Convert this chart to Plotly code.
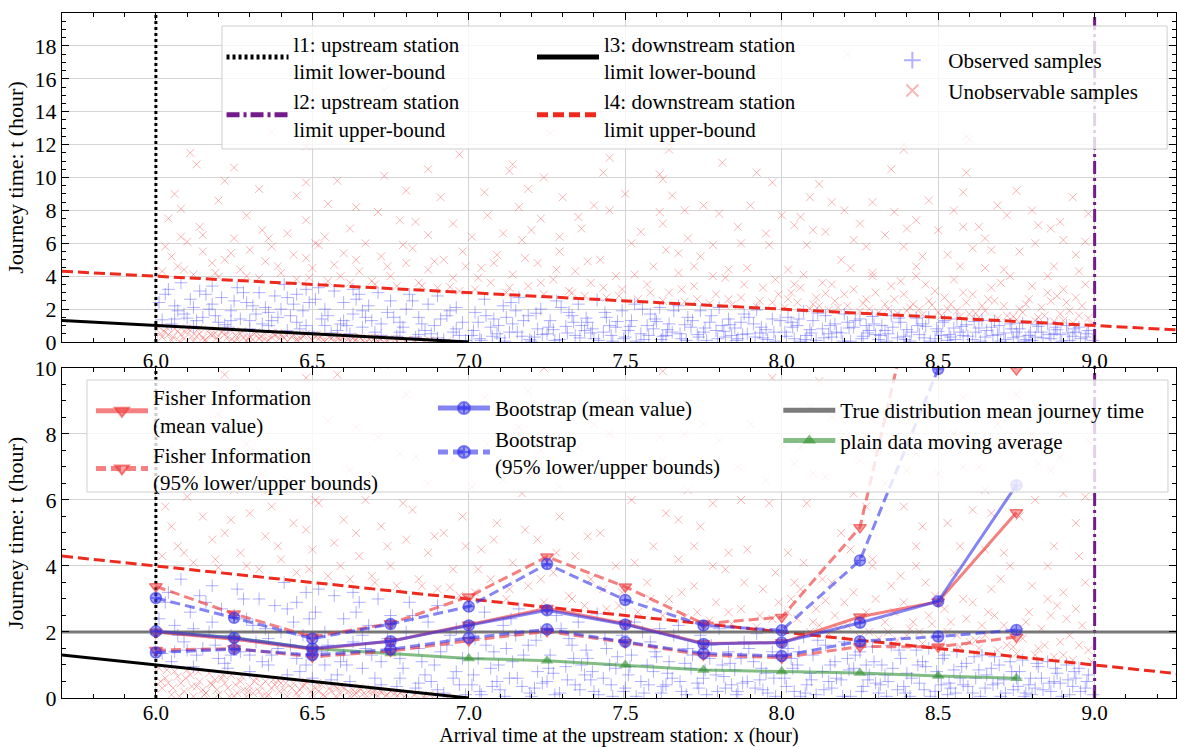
import plotly.graph_objects as go

# ---------------- data ----------------
station_x = [6.0, 6.25, 6.5, 6.75, 7.0, 7.25, 7.5, 7.75, 8.0, 8.25, 8.5, 8.75]
fisher_mean = [2.0, 1.78, 1.48, 1.72, 2.22, 2.72, 2.25, 1.65, 1.68, 2.46, 2.92, 5.62]
fisher_upper = [3.38, 2.55, 1.85, 2.26, 3.07, 4.28, 3.37, 2.25, 2.45, 5.17, 15.5, 9.95]
fisher_lower = [1.45, 1.5, 1.25, 1.42, 1.74, 2.02, 1.68, 1.3, 1.22, 1.56, 1.55, 1.85]
boot_mean = [2.02, 1.82, 1.5, 1.72, 2.2, 2.66, 2.23, 1.64, 1.68, 2.28, 2.93, 6.45]
boot_upper = [3.03, 2.43, 1.8, 2.24, 2.77, 4.06, 2.97, 2.2, 2.05, 4.17, 9.97, 13.0]
boot_lower = [1.38, 1.48, 1.3, 1.47, 1.82, 2.08, 1.7, 1.35, 1.27, 1.72, 1.86, 2.06]
moving_avg = [2.0, 1.83, 1.5, 1.35, 1.2, 1.13, 1.0, 0.85, 0.8, 0.76, 0.67, 0.6]
true_mean_x = [5.7, 9.3]
true_mean_t = [2.0, 2.0]

l1_x = [6.0, 6.0]
l2_x = [9.0, 9.0]
l3_x = [5.7, 7.0]
l3_t = [1.3, 0.0]
l4_x = [5.7, 9.3]
l4_t = [4.3, 0.7]

x_ticks = [6.0, 6.5, 7.0, 7.5, 8.0, 8.5, 9.0]
top_y_ticks = [0, 2, 4, 6, 8, 10, 12, 14, 16, 18]
bot_y_ticks = [0, 2, 4, 6, 8, 10]

observed = [
    (6.02,1.35),(6.03,2.9),(6.05,1.1),(6.06,2.2),(6.08,3.6),(6.09,1.7),(6.11,2.6),(6.12,0.95),(6.14,3.1),(6.15,1.5),
    (6.17,2.0),(6.18,3.4),(6.2,1.2),(6.21,2.7),(6.23,0.9),(6.24,1.9),(6.26,3.3),(6.27,1.4),(6.29,2.4),(6.3,0.8),
    (6.32,1.7),(6.33,3.0),(6.35,2.1),(6.36,1.0),(6.38,2.8),(6.39,1.5),(6.41,3.5),(6.42,0.7),(6.44,2.3),(6.45,1.2),
    (6.47,1.9),(6.48,3.2),(6.5,0.6),(6.51,2.6),(6.53,1.4),(6.54,2.0),(6.56,0.55),(6.57,3.1),(6.59,1.1),(6.6,2.4),
    (6.62,0.5),(6.63,1.7),(6.65,2.9),(6.66,0.9),(6.68,2.2),(6.69,1.3),(6.71,3.0),(6.72,0.4),(6.74,1.8),(6.75,2.5),
    (6.77,0.35),(6.78,1.2),(6.8,2.0),(6.81,2.9),(6.83,0.3),(6.84,1.5),(6.86,0.7),(6.87,2.3),(6.89,1.0),(6.9,2.8),
    (6.92,0.15),(6.93,1.6),(6.95,0.6),(6.96,2.1),(6.98,1.2),(6.99,0.1),(6.07,1.9),(6.19,1.6),(6.31,2.2),(6.43,1.6),
    (6.55,1.6),(6.67,1.5),(6.79,0.9),(6.91,1.4),(6.13,1.3),(6.37,1.3),(6.61,1.0),(6.85,1.1),(6.25,2.5),(6.49,2.4),
    (6.01,2.4),(6.04,3.2),(6.1,1.45),(6.16,2.9),(6.22,1.05),(6.28,3.0),(6.34,1.1),(6.4,2.0),(6.46,0.8),(6.52,3.3),
    (6.58,0.7),(6.64,2.6),(6.7,0.6),(6.76,1.5),(6.82,2.5),(6.88,0.5),(6.94,1.9),(6.97,0.4),(6.06,1.4),(6.18,2.3),
    (6.3,1.3),(6.42,2.7),(6.54,1.0),(6.66,1.9),(6.78,0.6),(6.9,0.25),(6.12,2.1),(6.36,1.8),(6.6,1.3),(6.84,0.45),
    (6.24,1.3),(6.48,1.0),(6.72,1.1),(6.96,0.8),(6.45,2.9),(6.63,3.2),
    (7.01,0.4),(7.02,1.8),(7.04,0.1),(7.05,2.6),(7.07,0.9),(7.08,1.4),(7.1,0.25),(7.11,2.2),(7.13,0.6),(7.14,1.1),
    (7.16,2.7),(7.17,0.35),(7.19,1.6),(7.2,0.05),(7.22,0.8),(7.23,2.0),(7.25,0.5),(7.26,1.3),(7.28,2.5),(7.29,0.15),
    (7.31,0.95),(7.32,1.8),(7.34,0.4),(7.35,2.3),(7.37,0.7),(7.38,1.2),(7.4,0.2),(7.41,2.55),(7.43,0.6),(7.44,1.5),
    (7.46,0.05),(7.47,0.9),(7.49,1.9),(7.5,0.3),(7.52,1.3),(7.53,2.3),(7.55,0.5),(7.56,0.15),(7.58,1.7),(7.59,0.8),
    (7.61,2.1),(7.62,0.35),(7.64,1.1),(7.65,0.6),(7.67,2.2),(7.68,0.2),(7.7,1.5),(7.71,0.9),(7.73,0.45),(7.74,1.9),
    (7.76,0.1),(7.77,1.2),(7.79,0.7),(7.8,2.1),(7.82,0.3),(7.83,1.4),(7.85,0.85),(7.86,0.2),(7.88,1.7),(7.89,0.5),
    (7.91,1.1),(7.92,1.95),(7.94,0.25),(7.95,0.75),(7.97,1.4),(7.98,0.05),(7.03,1.2),(7.09,0.5),(7.15,1.9),(7.21,0.3),
    (7.27,0.75),(7.33,1.6),(7.39,0.55),(7.45,1.0),(7.51,0.7),(7.57,1.0),(7.63,0.4),(7.69,1.05),(7.75,0.6),(7.81,1.0),
    (7.87,1.2),(7.93,0.55),(7.12,1.5),(7.36,1.0),(7.6,1.25),(7.84,0.4),
    (7.015,0.7),(7.035,0.2),(7.055,1.6),(7.075,0.35),(7.095,1.0),(7.115,0.05),(7.135,2.4),(7.155,0.6),(7.175,1.3),(7.195,0.15),
    (7.215,1.75),(7.235,0.45),(7.255,0.9),(7.275,0.1),(7.295,2.1),(7.315,0.55),(7.335,1.2),(7.355,0.25),(7.375,1.45),(7.395,0.8),
    (7.415,0.1),(7.435,1.8),(7.455,0.4),(7.475,1.25),(7.495,0.2),(7.515,0.95),(7.535,0.05),(7.555,2.0),(7.575,0.4),(7.595,1.4),
    (7.615,0.15),(7.635,0.75),(7.655,1.9),(7.675,0.5),(7.695,0.1),(7.715,1.3),(7.735,0.3),(7.755,0.85),(7.775,1.6),(7.795,0.2),
    (7.815,0.65),(7.835,1.05),(7.855,0.1),(7.875,0.45),(7.895,1.5),(7.915,0.3),(7.935,0.9),(7.955,0.15),(7.975,0.6),(7.995,1.3),
    (8.01,0.6),(8.02,1.5),(8.04,0.2),(8.05,1.0),(8.07,1.85),(8.08,0.4),(8.1,1.3),(8.11,0.1),(8.13,0.8),(8.14,1.6),
    (8.16,0.3),(8.17,1.1),(8.19,0.55),(8.2,1.7),(8.22,0.05),(8.23,0.9),(8.25,1.4),(8.26,0.35),(8.28,0.7),(8.29,1.55),
    (8.31,0.15),(8.32,1.0),(8.34,0.5),(8.35,1.6),(8.37,0.25),(8.38,1.2),(8.4,0.75),(8.41,0.05),(8.43,1.45),(8.44,0.45),
    (8.46,0.95),(8.47,1.5),(8.49,0.2),(8.5,0.65),(8.52,1.3),(8.53,0.1),(8.55,0.85),(8.56,1.4),(8.58,0.4),(8.59,1.05),
    (8.61,0.15),(8.62,0.6),(8.64,1.3),(8.65,0.3),(8.67,0.9),(8.68,1.25),(8.7,0.05),(8.71,0.55),(8.73,1.1),(8.74,0.25),
    (8.76,0.8),(8.77,1.15),(8.79,0.4),(8.8,0.1),(8.82,0.95),(8.83,0.6),(8.85,1.1),(8.86,0.2),(8.88,0.75),(8.89,0.45),
    (8.91,1.0),(8.92,0.1),(8.94,0.6),(8.95,0.9),(8.97,0.3),(8.98,0.7),(8.03,1.2),(8.09,0.75),(8.15,0.5),(8.21,1.2),
    (8.27,1.0),(8.33,0.7),(8.39,0.35),(8.45,1.1),(8.51,0.4),(8.57,0.6),(8.63,0.85),(8.69,0.45),(8.75,0.6),(8.81,0.3),
    (8.87,0.5),(8.93,0.35),(8.06,0.05),(8.3,0.45),(8.54,0.3),(8.78,0.15),
    (8.015,0.35),(8.035,0.9),(8.055,1.4),(8.075,0.15),(8.095,0.55),(8.115,1.75),(8.135,0.25),(8.155,1.0),(8.175,0.6),(8.195,0.05),
    (8.215,0.85),(8.235,1.3),(8.255,0.2),(8.275,0.55),(8.295,1.1),(8.315,0.4),(8.335,0.05),(8.355,0.9),(8.375,1.45),(8.395,0.15),
    (8.415,0.6),(8.435,1.0),(8.455,0.25),(8.475,0.05),(8.495,0.8),(8.515,1.2),(8.535,0.45),(8.555,0.15),(8.575,0.95),(8.595,0.35),
    (8.615,1.25),(8.635,0.05),(8.655,0.7),(8.675,0.4),(8.695,1.0),(8.715,0.15),(8.735,0.8),(8.755,0.35),(8.775,0.05),(8.795,0.6),
    (8.815,1.05),(8.835,0.25),(8.855,0.45),(8.875,0.9),(8.895,0.05),(8.915,0.55),(8.935,0.8),(8.955,0.2),(8.975,0.5),(8.995,0.1),
]

unobservable = [
    # below the downstream lower bound
    (6.01,0.9),(6.02,0.3),(6.03,0.6),(6.05,0.1),(6.06,0.8),(6.08,0.45),(6.09,0.2),(6.11,0.7),(6.12,0.05),(6.14,0.5),
    (6.15,0.25),(6.17,0.75),(6.18,0.4),(6.2,0.1),(6.21,0.6),(6.23,0.3),(6.24,0.7),(6.26,0.15),(6.27,0.5),(6.29,0.05),
    (6.3,0.35),(6.32,0.6),(6.33,0.2),(6.35,0.5),(6.36,0.1),(6.38,0.4),(6.39,0.55),(6.41,0.25),(6.42,0.05),(6.44,0.45),
    (6.45,0.15),(6.47,0.35),(6.48,0.5),(6.5,0.1),(6.51,0.3),(6.53,0.4),(6.54,0.05),(6.56,0.2),(6.57,0.38),(6.59,0.12),
    (6.6,0.3),(6.62,0.05),(6.63,0.25),(6.65,0.32),(6.66,0.1),(6.68,0.2),(6.69,0.28),(6.71,0.05),(6.72,0.18),(6.74,0.1),
    (6.75,0.2),(6.77,0.05),(6.78,0.15),(6.8,0.1),(6.83,0.12),(6.86,0.05),(6.89,0.08),(6.93,0.03),(6.04,0.45),(6.1,0.85),
    (6.16,0.15),(6.22,0.45),(6.28,0.25),(6.34,0.05),(6.4,0.45),(6.46,0.25),(6.52,0.2),(6.58,0.3),(6.64,0.15),(6.7,0.25),
    (6.07,0.65),(6.13,0.35),(6.19,0.55),(6.25,0.05),(6.31,0.15),(6.37,0.3),
    (6.015,0.5),(6.035,0.85),(6.055,0.3),(6.075,0.05),(6.095,0.6),(6.115,0.35),(6.135,0.8),(6.155,0.1),(6.175,0.45),(6.195,0.25),
    (6.215,0.7),(6.235,0.05),(6.255,0.4),(6.275,0.65),(6.295,0.2),(6.315,0.5),(6.335,0.35),(6.355,0.05),(6.375,0.55),(6.395,0.2),
    (6.415,0.45),(6.435,0.3),(6.455,0.05),(6.475,0.4),(6.495,0.2),(6.515,0.45),(6.535,0.1),(6.555,0.3),(6.575,0.05),(6.595,0.35),
    (6.615,0.2),(6.635,0.1),(6.655,0.25),(6.675,0.05),(6.695,0.15),(6.715,0.22),(6.735,0.08),(6.765,0.15),(6.795,0.05),(6.825,0.1),
    (6.855,0.04),(6.875,0.1),
    # above the downstream upper bound
    (6.02,4.3),(6.05,5.2),(6.07,4.6),(6.1,6.1),(6.12,4.1),(6.15,5.5),(6.18,4.8),(6.2,3.95),(6.22,5.0),(6.25,6.3),
    (6.27,4.4),(6.3,5.6),(6.33,3.9),(6.35,4.9),(6.37,5.8),(6.4,4.2),(6.42,6.6),(6.45,3.8),(6.48,5.1),(6.5,4.5),
    (6.52,5.9),(6.55,3.7),(6.57,4.7),(6.6,5.4),(6.62,3.6),(6.65,4.3),(6.67,6.0),(6.7,3.5),(6.72,5.2),(6.75,4.0),
    (6.77,3.4),(6.8,4.8),(6.82,5.7),(6.85,3.4),(6.87,4.4),(6.9,3.3),(6.92,5.0),(6.95,3.9),(6.97,3.1),(6.99,4.6),
    (7.02,3.2),(7.04,4.5),(7.07,3.6),(7.09,5.3),(7.12,3.0),(7.14,4.1),(7.17,6.2),(7.19,3.4),(7.22,4.8),(7.24,2.9),
    (7.27,3.8),(7.29,5.5),(7.32,3.1),(7.34,4.3),(7.37,2.8),(7.39,3.6),(7.42,5.0),(7.44,2.7),(7.47,4.0),(7.49,3.2),
    (7.52,6.0),(7.54,2.6),(7.57,3.5),(7.59,4.6),(7.62,2.5),(7.64,3.0),(7.67,4.2),(7.69,2.45),(7.72,3.4),(7.74,5.2),
    (7.77,2.35),(7.79,2.9),(7.82,3.9),(7.84,2.25),(7.87,2.7),(7.89,4.5),(7.92,2.15),(7.94,3.3),(7.97,2.4),(7.99,2.9),
    (8.01,2.1),(8.03,3.0),(8.05,2.4),(8.07,4.1),(8.09,2.0),(8.11,2.7),(8.13,3.6),(8.15,1.95),(8.17,2.5),(8.19,5.0),
    (8.21,2.2),(8.23,3.2),(8.25,1.85),(8.27,2.6),(8.29,4.2),(8.31,1.8),(8.33,2.3),(8.35,3.4),(8.37,1.75),(8.39,2.9),
    (8.41,2.1),(8.43,4.6),(8.45,1.65),(8.47,2.5),(8.49,3.1),(8.51,1.6),(8.53,2.0),(8.55,3.8),(8.57,1.55),(8.59,2.4),
    (8.61,2.9),(8.63,1.5),(8.65,1.9),(8.67,3.3),(8.69,1.45),(8.71,2.2),(8.73,4.0),(8.75,1.35),(8.77,1.8),(8.79,2.6),
    (8.81,1.3),(8.83,2.1),(8.85,3.0),(8.87,1.25),(8.89,1.7),(8.91,2.4),(8.93,1.15),(8.95,1.6),(8.97,3.5),(8.99,1.1),
    (8.04,3.5),(8.12,2.2),(8.2,2.9),(8.28,2.0),(8.36,2.6),(8.44,2.0),(8.52,2.7),(8.6,1.7),(8.68,2.5),(8.76,2.0),
    (8.84,1.6),(8.92,1.9),(8.96,2.2),(8.88,2.8),(8.8,3.4),(8.72,1.6),(8.64,2.2),(8.56,1.9),(8.48,2.25),(8.4,1.9),
    (6.03,5.8),(6.09,4.4),(6.14,7.0),(6.19,4.2),(6.24,5.4),(6.29,4.0),(6.34,6.8),(6.39,4.6),(6.44,5.3),(6.49,3.9),
    (6.54,6.4),(6.59,4.0),(6.64,5.0),(6.69,3.7),(6.74,4.6),(6.79,5.9),(6.84,3.6),(6.89,4.9),(6.94,3.35),(6.98,5.5),
    (7.03,3.9),(7.08,4.8),(7.13,3.3),(7.18,5.1),(7.23,3.6),(7.28,4.4),(7.33,3.0),(7.38,4.9),(7.43,3.3),(7.48,2.8),
    (7.53,4.1),(7.58,3.0),(7.63,5.6),(7.68,3.2),(7.73,2.6),(7.78,4.0),(7.83,2.6),(7.88,3.5),(7.93,2.5),(7.98,3.8),
    (8.02,2.6),(8.06,3.3),(8.1,2.3),(8.14,2.95),(8.18,2.1),(8.22,4.5),(8.26,2.35),(8.3,3.0),(8.34,2.0),(8.38,3.7),
    (8.42,2.3),(8.46,3.5),(8.5,1.8),(8.54,2.3),(8.58,3.0),(8.62,1.75),(8.66,2.6),(8.7,3.6),(8.74,1.55),(8.78,2.3),
    (8.82,1.5),(8.86,2.5),(8.9,1.3),(8.94,2.7),(8.98,1.45),(8.85,4.0),(8.9,3.2),(8.95,4.3),(8.65,4.5),(8.45,5.2),
    # sparse high journey times
    (6.11,11.5),(6.13,10.8),(6.22,9.8),(6.48,9.7),(6.97,11.4),(7.14,10.8),(7.13,10.4),(6.87,10.5),(6.8,9.2),(6.73,10.1),
    (6.91,8.8),(7.19,9.3),(7.24,10.0),(7.43,10.3),(7.3,8.8),(7.61,10.2),(6.08,8.1),(6.04,7.5),(6.29,7.7),(6.55,8.4),
    (6.64,8.2),(6.71,7.9),(6.78,7.4),(6.83,7.3),(7.06,7.7),(7.16,8.2),(7.4,8.3),(7.45,8.0),(7.23,7.5),(6.48,7.4),
    (6.08,6.4),(6.15,6.5),(6.36,6.3),(6.51,6.0),(6.87,6.5),(7.01,6.4),(7.11,6.6),(7.29,6.4),(7.36,6.9),(7.61,7.9),
    (7.81,10.9),(7.92,10.3),(7.97,9.7),(7.62,9.9),(8.09,8.8),(8.16,8.5),(8.2,8.0),(8.29,8.5),(8.36,7.9),(8.47,8.6),
    (8.59,10.3),(8.58,9.1),(8.55,8.0),(8.69,8.3),(8.72,7.7),(8.93,8.8),(8.58,7.0),(8.63,7.0),(8.82,7.1),(8.89,7.3),
    (8.86,6.9),(8.43,7.4),(8.4,6.9),(8.14,6.7),(8.1,6.8),(8.06,7.6),(8.04,7.1),(8.0,7.7),(7.9,8.3),(7.86,7.0),
    (7.8,7.8),(7.75,8.3),(7.69,8.0),(7.65,8.9),(7.62,7.2),(7.78,5.9),(7.87,6.0),(7.96,5.9),(8.08,5.9),(8.23,6.2),
    (8.27,5.8),(8.39,5.8),(8.53,5.3),(8.61,5.7),(8.67,5.6),(8.76,5.5),(8.81,6.0),(8.97,6.1),(8.94,5.3),(8.87,4.6),
    (8.71,4.4),(8.57,4.6),(8.43,4.0),(8.29,4.0),(8.16,3.5),(8.02,4.4),(7.83,4.4),(7.72,4.6),(7.67,5.4),
    (6.06,9.0),(6.2,8.6),(6.33,9.3),(6.45,8.9),(6.58,9.8),(6.62,6.9),(6.95,7.2),(7.05,9.1),(7.2,6.8),(7.35,7.6),
    (7.5,9.0),(7.55,6.7),(7.7,6.3),(7.95,6.6),(8.12,9.6),(8.25,7.2),(8.33,6.5),(8.5,6.8),(8.65,6.3),(8.75,9.2),
    (8.8,8.0),(8.9,6.2),(8.98,7.8),(8.35,10.5),(7.45,11.2),(6.25,10.6),
    (6.73,15.3),(6.37,12.8),(6.48,11.9),(8.21,17.5),(8.39,11.7),(8.6,12.3),(7.64,11.7),(6.63,12.5),(7.26,12.7),(8.39,12.0),
    (8.59,12.5),(7.64,12.0),
]

obs_x = [p[0] for p in observed]
obs_t = [p[1] for p in observed]
un_x = [p[0] for p in unobservable]
un_t = [p[1] for p in unobservable]

# ---------------- styling ----------------
FONT = "Liberation Serif"
FS = 22
LFS = 21
BLUE_PTS = "rgba(70,70,255,0.42)"
RED_PTS = "rgba(240,80,80,0.42)"
FISH = "rgba(238,60,60,0.65)"
FISH_FILL = "rgba(238,60,60,0.45)"
BOOT = "rgba(50,50,235,0.6)"
BOOT_FILL = "rgba(50,50,235,0.45)"
GREEN = "rgba(50,145,50,0.6)"
L4_RED = "#ee2a1e"
PURPLE = "#741b8a"

fig = go.Figure()

for panel, (xa, ya, top) in enumerate([("x", "y", 20), ("x2", "y2", 10)]):
    first = panel == 0
    fig.add_trace(go.Scatter(
        x=obs_x, y=obs_t, mode="markers", xaxis=xa, yaxis=ya,
        name="Observed samples", legend="legend3", legendgroup="obs",
        showlegend=first,
        marker=dict(symbol="cross-thin", size=9, color=BLUE_PTS,
                    line=dict(color=BLUE_PTS, width=1)),
    ))
    fig.add_trace(go.Scatter(
        x=un_x, y=un_t, mode="markers", xaxis=xa, yaxis=ya,
        name="Unobservable samples", legend="legend3", legendgroup="unobs",
        showlegend=first,
        marker=dict(symbol="x-thin", size=8, color=RED_PTS,
                    line=dict(color=RED_PTS, width=1)),
    ))
    fig.add_trace(go.Scatter(
        x=l1_x, y=[0, top], mode="lines", xaxis=xa, yaxis=ya,
        name="l1: upstream station<br>limit lower-bound", legend="legend",
        legendgroup="l1", showlegend=first,
        line=dict(color="black", width=3, dash="3px,3px"),
    ))
    fig.add_trace(go.Scatter(
        x=l2_x, y=[0, top], mode="lines", xaxis=xa, yaxis=ya,
        name="l2: upstream station<br>limit upper-bound", legend="legend",
        legendgroup="l2", showlegend=first,
        line=dict(color=PURPLE, width=3, dash="13px,4px,3px,4px"),
    ))
    fig.add_trace(go.Scatter(
        x=l3_x, y=l3_t, mode="lines", xaxis=xa, yaxis=ya,
        name="l3: downstream station<br>limit lower-bound", legend="legend2",
        legendgroup="l3", showlegend=first,
        line=dict(color="black", width=3),
    ))
    fig.add_trace(go.Scatter(
        x=l4_x, y=l4_t, mode="lines", xaxis=xa, yaxis=ya,
        name="l4: downstream station<br>limit upper-bound", legend="legend2",
        legendgroup="l4", showlegend=first,
        line=dict(color=L4_RED, width=3, dash="11px,5px"),
    ))

# bottom panel estimates
fig.add_trace(go.Scatter(
    x=true_mean_x, y=true_mean_t, mode="lines", xaxis="x2", yaxis="y2",
    name="True distribution mean journey time", legend="legend6", legendgroup="true",
    legendrank=1,
    line=dict(color="rgba(90,90,90,0.8)", width=3),
))
fig.add_trace(go.Scatter(
    x=station_x, y=moving_avg, mode="lines+markers", xaxis="x2", yaxis="y2",
    name="plain data moving average", legend="legend6", legendgroup="ma",
    legendrank=2,
    line=dict(color=GREEN, width=3),
    marker=dict(symbol="triangle-up", size=11, color=GREEN, line=dict(width=0)),
))
fig.add_trace(go.Scatter(
    x=station_x + [None] + station_x, y=fisher_upper + [None] + fisher_lower,
    mode="lines+markers", xaxis="x2", yaxis="y2",
    name="Fisher Information<br>(95% lower/upper bounds)", legend="legend4", legendgroup="fb",
    legendrank=2,
    line=dict(color=FISH, width=3, dash="10px,5px"),
    marker=dict(symbol="triangle-down", size=11, color=FISH_FILL, line=dict(color=FISH, width=1.5)),
))
fig.add_trace(go.Scatter(
    x=station_x + [None] + station_x, y=boot_upper + [None] + boot_lower,
    mode="lines+markers", xaxis="x2", yaxis="y2",
    name="Bootstrap<br>(95% lower/upper bounds)", legend="legend5", legendgroup="bb",
    legendrank=2,
    line=dict(color=BOOT, width=3, dash="10px,5px"),
    marker=dict(symbol="circle-cross", size=11, color=BOOT_FILL, line=dict(color=BOOT, width=1.5)),
))
fig.add_trace(go.Scatter(
    x=station_x, y=fisher_mean, mode="lines+markers", xaxis="x2", yaxis="y2",
    name="Fisher Information<br>(mean value)", legend="legend4", legendgroup="fm",
    legendrank=1,
    line=dict(color=FISH, width=3),
    marker=dict(symbol="triangle-down", size=11, color=FISH_FILL, line=dict(color=FISH, width=1.5)),
))
fig.add_trace(go.Scatter(
    x=station_x, y=boot_mean, mode="lines+markers", xaxis="x2", yaxis="y2",
    name="Bootstrap (mean value)", legend="legend5", legendgroup="bm",
    legendrank=1,
    line=dict(color=BOOT, width=3),
    marker=dict(symbol="circle-cross", size=11, color=BOOT_FILL, line=dict(color=BOOT, width=1.5)),
))

# ---------------- axes ----------------
def xaxis(anchor, show_title):
    return dict(
        anchor=anchor, domain=[0, 1], range=[5.7, 9.26],
        tickvals=x_ticks, ticktext=[f"{v:.1f}" for v in x_ticks],
        ticks="inside", ticklen=7, tickwidth=1, tickcolor="black",
        ticklabelstandoff=-4 if show_title else 0,
        minor=dict(dtick=0.1, tick0=6.0, ticks="inside", ticklen=4, tickcolor="black", showgrid=False),
        showline=True, linecolor="black", linewidth=1, mirror="allticks",
        showgrid=True, gridcolor="#d4d4d4", gridwidth=1, zeroline=False,
        tickfont=dict(family=FONT, size=21, color="black"),
        title=dict(text="Arrival time at the upstream station: x (hour)" if show_title else "",
                   font=dict(family=FONT, size=20, color="black"), standoff=6),
    )

def yaxis(anchor, domain, rng, ticks):
    return dict(
        anchor=anchor, domain=domain, range=rng,
        tickvals=ticks, ticktext=[str(v) for v in ticks],
        ticks="inside", ticklen=7, tickwidth=1, tickcolor="black",
        minor=dict(dtick=0.5, tick0=0, ticks="inside", ticklen=4, tickcolor="black", showgrid=False),
        showline=True, linecolor="black", linewidth=1, mirror="allticks",
        showgrid=True, gridcolor="#d4d4d4", gridwidth=1, zeroline=False,
        tickfont=dict(family=FONT, size=FS, color="black"),
        title=dict(text="Journey time: t (hour)", font=dict(family=FONT, size=FS, color="black"), standoff=4),
    )

leg_font = dict(family=FONT, size=LFS, color="black")
def legend(x, y, gap, width=52):
    return dict(x=x, y=y, xanchor="left", yanchor="top", bgcolor="rgba(0,0,0,0)",
                borderwidth=0, font=leg_font, tracegroupgap=gap, itemwidth=width,
                itemsizing="constant", orientation="v", traceorder="normal")

fig.update_layout(
    width=1177, height=747,
    margin=dict(l=62, r=1, t=13, b=49),
    paper_bgcolor="white", plot_bgcolor="white",
    font=dict(family=FONT, size=FS, color="black"),
    xaxis=xaxis("y", False),
    yaxis=yaxis("x", [0.5197, 1.0], [0, 20], top_y_ticks),
    xaxis2=xaxis("y2", True),
    yaxis2=yaxis("x2", [0.0, 0.4818], [0, 10], bot_y_ticks),
    legend=legend(0.1432, 0.985, 10, 62),
    legend2=legend(0.4219, 0.985, 10, 62),
    legend3=legend(0.731, 0.9606, 14, 62),
    legend4=legend(0.026, 0.4686, 5),
    legend5=legend(0.333, 0.4526, 18),
    legend6=legend(0.643, 0.4496, 11),
    shapes=[
        dict(type="rect", xref="paper", yref="paper", x0=0.1436, x1=0.992, y0=0.8015, y1=0.981,
             fillcolor="rgba(255,255,255,0.8)", line=dict(color="#cfcfcf", width=1), layer="above"),
        dict(type="rect", xref="paper", yref="paper", x0=0.0224, x1=0.9928, y0=0.3007, y1=0.4642,
             fillcolor="rgba(255,255,255,0.8)", line=dict(color="#cfcfcf", width=1), layer="above"),
    ],
    showlegend=True,
)

fig.write_html(
    "out.html",
    config={"displayModeBar": False},
    post_script="document.body.style.margin='0';document.body.style.overflow='hidden';",
)
